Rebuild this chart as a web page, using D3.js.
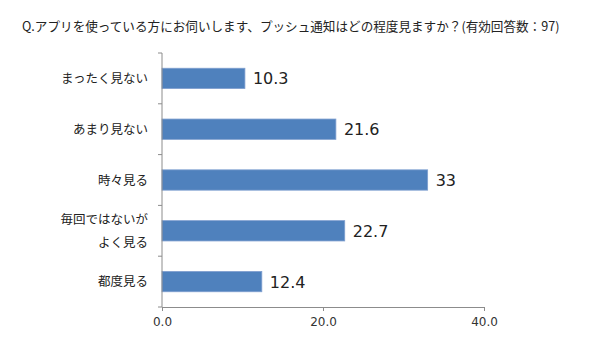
<!DOCTYPE html>
<html><head><meta charset="utf-8">
<script src="https://cdn.jsdelivr.net/npm/d3@7"></script>
<style>body{margin:0;background:#fff;}svg{display:block;font-family:"Noto Sans CJK JP","Noto Sans",sans-serif;}</style>
</head><body>
<svg id="c" width="600" height="354"></svg>
<script>
const title = "Q.アプリを使っている方にお伺いします、プッシュ通知はどの程度見ますか？(有効回答数：97)";
const categories = [["まったく見ない"],["あまり見ない"],["時々見る"],["毎回ではないが","よく見る"],["都度見る"]];
const values = [10.3, 21.6, 33, 22.7, 12.4];
const valueLabels = ["10.3","21.6","33","22.7","12.4"];
const xTicks = [0, 20, 40];

(function(){
const svg = d3.select("#c");
const pL = 162, pR = 484, pT = 53, pB = 307;
const x = d3.scaleLinear().domain([0, 40]).range([pL, pR]);
const y = d3.scaleBand().domain(d3.range(categories.length)).range([pT, pB]).paddingInner(0.6).paddingOuter(0.3);

svg.append("text").attr("x", 22).attr("y", 31).attr("font-size", 12.6).attr("fill", "#222").text(title);

svg.selectAll("rect.bar").data(values).join("rect")
  .attr("x", x(0)).attr("y", (d,i)=>y(i)).attr("width", d=>x(d)-x(0)).attr("height", y.bandwidth())
  .attr("fill", "#4f81bd").attr("stroke", "#7f9fcf").attr("stroke-width", 0.8);

svg.selectAll("text.val").data(values).join("text")
  .attr("x", d=>x(d)+8).attr("y", (d,i)=>y(i)+y.bandwidth()/2+6)
  .attr("font-size", 16).attr("fill", "#222").attr("font-family", "'DejaVu Sans',sans-serif").text((d,i)=>valueLabels[i]);

const g = svg.append("g");
g.append("line").attr("x1", pL).attr("x2", pL).attr("y1", pT).attr("y2", pB).attr("stroke", "#8c8c8c");
const step = (pB-pT)/categories.length;
d3.range(categories.length+1).forEach(i=>{
  g.append("line").attr("x1", pL-4).attr("x2", pL).attr("y1", pT+i*step).attr("y2", pT+i*step).attr("stroke", "#8c8c8c");
});
categories.forEach((lines,i)=>{
  const cy = y(i)+y.bandwidth()/2;
  const n = lines.length, lh = 23;
  lines.forEach((t,j)=>{
    g.append("text").attr("x", 148).attr("y", cy + (j-(n-1)/2)*lh + 4.5).attr("text-anchor","end")
     .attr("font-size", 12.5).attr("fill", "#222").text(t);
  });
});

const xa = svg.append("g").attr("transform", `translate(0,${pB})`)
  .call(d3.axisBottom(x).tickValues(xTicks).tickFormat(d3.format(".1f")).tickSize(4).tickPadding(6));
xa.select(".domain").attr("stroke", "#8c8c8c");
xa.selectAll(".tick line").attr("stroke", "#8c8c8c");
xa.selectAll(".tick text").attr("font-size", 12).attr("fill", "#333").attr("font-family", "'DejaVu Sans',sans-serif");
})();
</script>
</body></html>
